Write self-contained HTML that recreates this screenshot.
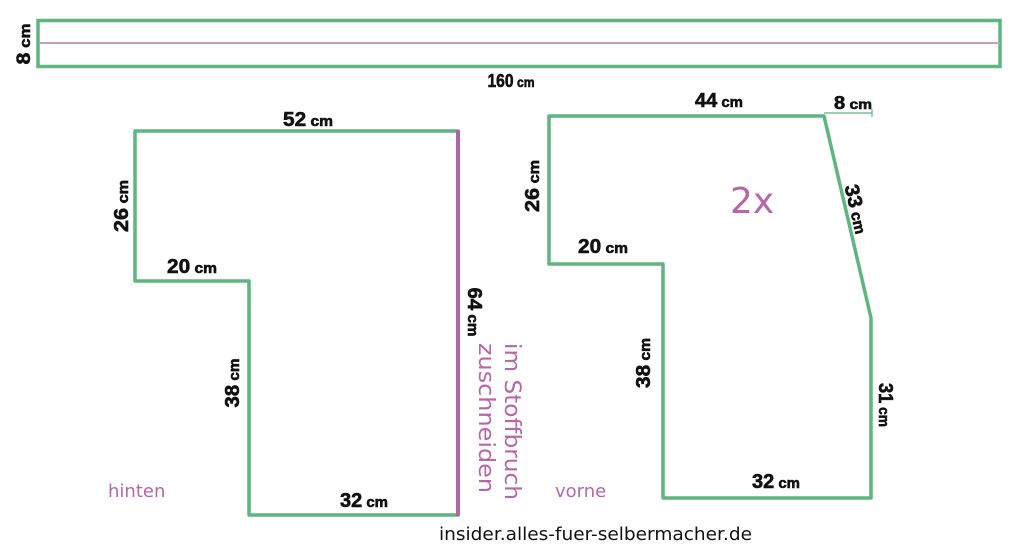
<!DOCTYPE html>
<html><head><meta charset="utf-8"><style>
html,body{margin:0;padding:0;background:#fff;}
svg{display:block;}
.h{font-family:"Liberation Sans",sans-serif;font-weight:bold;fill:#111;stroke:#111;stroke-width:0.6;}
.p{font-family:"DejaVu Sans","Liberation Sans",sans-serif;fill:#b766a9;}
</style></head><body>
<svg width="1024" height="557" viewBox="0 0 1024 557" xmlns="http://www.w3.org/2000/svg">
<rect x="0" y="0" width="1024" height="557" fill="#fff"/>
<!-- top strip -->
<rect x="38" y="20.5" width="962" height="46" fill="none" stroke="#5db67f" stroke-width="3.5"/>
<line x1="39" y1="43" x2="1000" y2="43" stroke="#c99bc0" stroke-width="2"/>
<!-- hinten -->
<polyline points="458,131 135,131 135,281 249,281 249,515 458,515" fill="none" stroke="#5db67f" stroke-width="3.5" stroke-linejoin="round" stroke-linecap="round"/>
<line x1="458" y1="130" x2="458" y2="516" stroke="#b066a5" stroke-width="4"/>
<!-- vorne -->
<polygon points="549,116 824,116 871,318 871,498 663,498 663,264 549,264" fill="none" stroke="#5db67f" stroke-width="3.5" stroke-linejoin="round"/>
<line x1="824" y1="113" x2="872" y2="113" stroke="#5db67f" stroke-width="1.2"/>
<line x1="872" y1="109" x2="872" y2="117" stroke="#5db67f" stroke-width="1.2"/>

<!-- handwritten labels -->
<g class="h">
<g transform="translate(24,44) rotate(-90)"><text x="0" y="6" text-anchor="middle" textLength="41" lengthAdjust="spacingAndGlyphs"><tspan font-size="19">8</tspan><tspan font-size="15"> cm</tspan></text></g>
<g transform="translate(511,81)"><text x="0" y="6" text-anchor="middle" textLength="47" lengthAdjust="spacingAndGlyphs"><tspan font-size="18">160</tspan><tspan font-size="14"> cm</tspan></text></g>
<g transform="translate(308,119)"><text x="0" y="7" text-anchor="middle" textLength="50" lengthAdjust="spacingAndGlyphs"><tspan font-size="20">52</tspan><tspan font-size="15"> cm</tspan></text></g>
<g transform="translate(121,206) rotate(-90)"><text x="0" y="7" text-anchor="middle" textLength="52" lengthAdjust="spacingAndGlyphs"><tspan font-size="20">26</tspan><tspan font-size="15"> cm</tspan></text></g>
<g transform="translate(192,266)"><text x="0" y="7" text-anchor="middle" textLength="50" lengthAdjust="spacingAndGlyphs"><tspan font-size="20">20</tspan><tspan font-size="15"> cm</tspan></text></g>
<g transform="translate(232,383) rotate(-90)"><text x="0" y="7" text-anchor="middle" textLength="49" lengthAdjust="spacingAndGlyphs"><tspan font-size="20">38</tspan><tspan font-size="15"> cm</tspan></text></g>
<g transform="translate(475,312) rotate(90)"><text x="0" y="7" text-anchor="middle" textLength="49" lengthAdjust="spacingAndGlyphs"><tspan font-size="20">64</tspan><tspan font-size="15"> cm</tspan></text></g>
<g transform="translate(364,500)"><text x="0" y="7" text-anchor="middle" textLength="48" lengthAdjust="spacingAndGlyphs"><tspan font-size="20">32</tspan><tspan font-size="15"> cm</tspan></text></g>
<g transform="translate(719,100)"><text x="0" y="7" text-anchor="middle" textLength="48" lengthAdjust="spacingAndGlyphs"><tspan font-size="20">44</tspan><tspan font-size="15"> cm</tspan></text></g>
<g transform="translate(853,103)"><text x="0" y="6" text-anchor="middle" textLength="38" lengthAdjust="spacingAndGlyphs"><tspan font-size="18">8</tspan><tspan font-size="14"> cm</tspan></text></g>
<g transform="translate(532,186) rotate(-90)"><text x="0" y="7" text-anchor="middle" textLength="52" lengthAdjust="spacingAndGlyphs"><tspan font-size="20">26</tspan><tspan font-size="15"> cm</tspan></text></g>
<g transform="translate(603,246)"><text x="0" y="7" text-anchor="middle" textLength="50" lengthAdjust="spacingAndGlyphs"><tspan font-size="20">20</tspan><tspan font-size="15"> cm</tspan></text></g>
<g transform="translate(857,209) rotate(77)"><text x="0" y="7" text-anchor="middle" textLength="50" lengthAdjust="spacingAndGlyphs"><tspan font-size="20">33</tspan><tspan font-size="15"> cm</tspan></text></g>
<g transform="translate(643,363) rotate(-90)"><text x="0" y="7" text-anchor="middle" textLength="50" lengthAdjust="spacingAndGlyphs"><tspan font-size="20">38</tspan><tspan font-size="15"> cm</tspan></text></g>
<g transform="translate(886,405) rotate(90)"><text x="0" y="7" text-anchor="middle" textLength="44" lengthAdjust="spacingAndGlyphs"><tspan font-size="20">31</tspan><tspan font-size="15"> cm</tspan></text></g>
<g transform="translate(776,481)"><text x="0" y="7" text-anchor="middle" textLength="48" lengthAdjust="spacingAndGlyphs"><tspan font-size="20">32</tspan><tspan font-size="15"> cm</tspan></text></g>
</g>

<!-- pink labels -->
<text class="p" x="108" y="497" font-size="18">hinten</text>
<text class="p" x="555" y="497" font-size="18">vorne</text>
<text class="p" x="730" y="213" font-size="36">2x</text>
<g transform="translate(500,343) rotate(90)">
<text class="p" x="0" y="-5" font-size="22" textLength="157" lengthAdjust="spacingAndGlyphs">im Stoffbruch</text>
<text class="p" x="0" y="21" font-size="22" textLength="150" lengthAdjust="spacingAndGlyphs">zuschneiden</text>
</g>

<!-- footer -->
<text x="439" y="540" font-family="'DejaVu Sans','Liberation Sans',sans-serif" font-size="18" fill="#111" textLength="313" lengthAdjust="spacingAndGlyphs">insider.alles-fuer-selbermacher.de</text>
</svg>
</body></html>
